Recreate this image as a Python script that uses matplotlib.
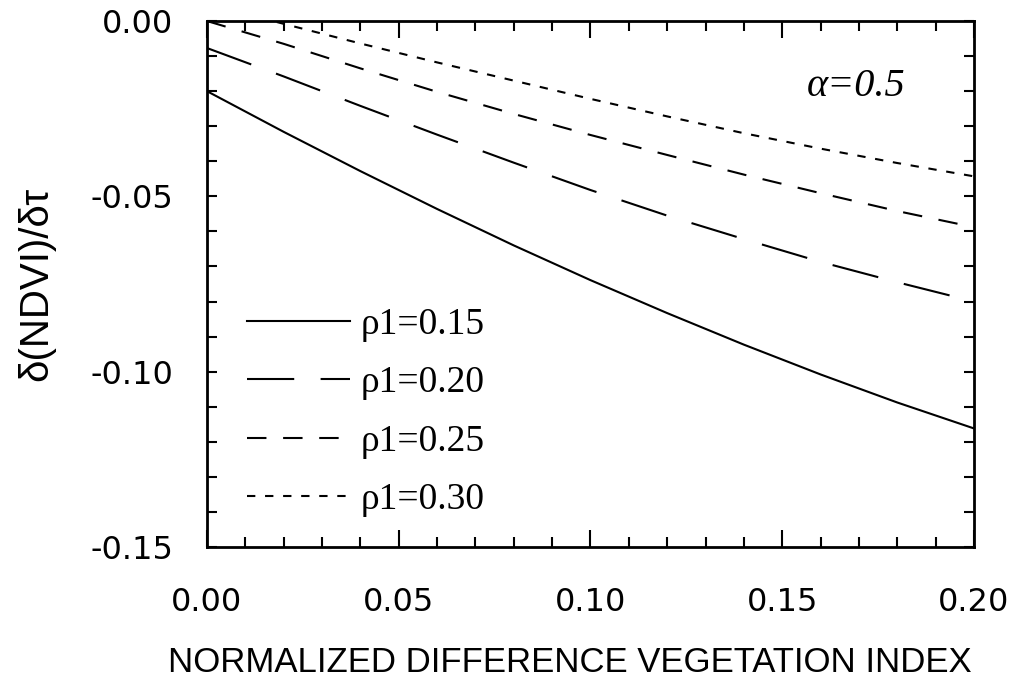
import matplotlib
matplotlib.use("Agg")
import matplotlib.pyplot as plt
from matplotlib.ticker import MultipleLocator, FormatStrFormatter

# NDVI values (x) and sensitivity curves for each rho1
ndvi = [0.00, 0.02, 0.04, 0.06, 0.08, 0.10, 0.12, 0.14, 0.16, 0.18, 0.20]
rho_015 = [-0.0200, -0.0316, -0.0428, -0.0536, -0.0640, -0.0739, -0.0833, -0.0923, -0.1008, -0.1088, -0.1162]
rho_020 = [-0.0077, -0.0158, -0.0242, -0.0324, -0.0404, -0.0482, -0.0555, -0.0622, -0.0687, -0.0745, -0.0800]
rho_025 = [0.0000, -0.0065, -0.0135, -0.0202, -0.0265, -0.0325, -0.0382, -0.0438, -0.0491, -0.0542, -0.0588]
rho_030 = [0.0050, -0.0008, -0.0064, -0.0118, -0.0170, -0.0222, -0.0272, -0.0320, -0.0364, -0.0405, -0.0443]

labels = ["ρ1=0.15", "ρ1=0.20", "ρ1=0.25", "ρ1=0.30"]
series = [rho_015, rho_020, rho_025, rho_030]
# dash patterns in points (on, off)
dash_styles = [None, (34, 19), (14, 12), (6, 7)]

plt.rcParams['font.family'] = ['DejaVu Sans']
plt.rcParams['axes.unicode_minus'] = False
plt.rcParams['lines.scale_dashes'] = False

fig = plt.figure(figsize=(10.21, 6.85), dpi=100)
ax = fig.add_axes([0.2027, 0.2015, 0.7513, 0.7678])

for vals, lab, ds in zip(series, labels, dash_styles):
    line, = ax.plot(ndvi, vals, color='black', lw=1.5, label=lab)
    if ds is not None:
        line.set_dashes(ds)

ax.set_xlim(0.0, 0.2)
ax.set_ylim(-0.15, 0.0)

ax.xaxis.set_major_locator(MultipleLocator(0.05))
ax.xaxis.set_minor_locator(MultipleLocator(0.01))
ax.yaxis.set_major_locator(MultipleLocator(0.05))
ax.yaxis.set_minor_locator(MultipleLocator(0.01))
ax.xaxis.set_major_formatter(FormatStrFormatter('%.2f'))
ax.yaxis.set_major_formatter(FormatStrFormatter('%.2f'))

for sp in ax.spines.values():
    sp.set_linewidth(2)

ax.tick_params(axis='x', which='major', direction='in', length=12, width=1.5,
               top=True, bottom=True, pad=29, labelsize=23)
ax.tick_params(axis='x', which='minor', direction='in', length=7, width=1.5,
               top=True, bottom=True)
ax.tick_params(axis='y', which='both', direction='in', length=7.5, width=1.5,
               left=True, right=True, pad=24, labelsize=23)

ax.set_xlabel("NORMALIZED DIFFERENCE VEGETATION INDEX",
              fontfamily='Liberation Sans', fontsize=25)
ax.xaxis.set_label_coords(0.473, -0.188)
ax.set_ylabel("δ(NDVI)/δτ", fontfamily='Liberation Sans', fontsize=29)
ax.yaxis.set_label_coords(-0.198, 0.5)

ax.text(0.846, 0.875, "α=0.5", transform=ax.transAxes, ha='center', va='center',
        fontfamily='Liberation Serif', fontstyle='italic', fontsize=29)

ax.legend(loc='upper left', bbox_to_anchor=(0.052, 0.456), frameon=False,
          prop={'family': 'Liberation Serif', 'size': 27},
          handlelength=2.75, handletextpad=0.28, labelspacing=0.64,
          borderpad=0, borderaxespad=0)

fig.savefig("out.png", dpi=100)
